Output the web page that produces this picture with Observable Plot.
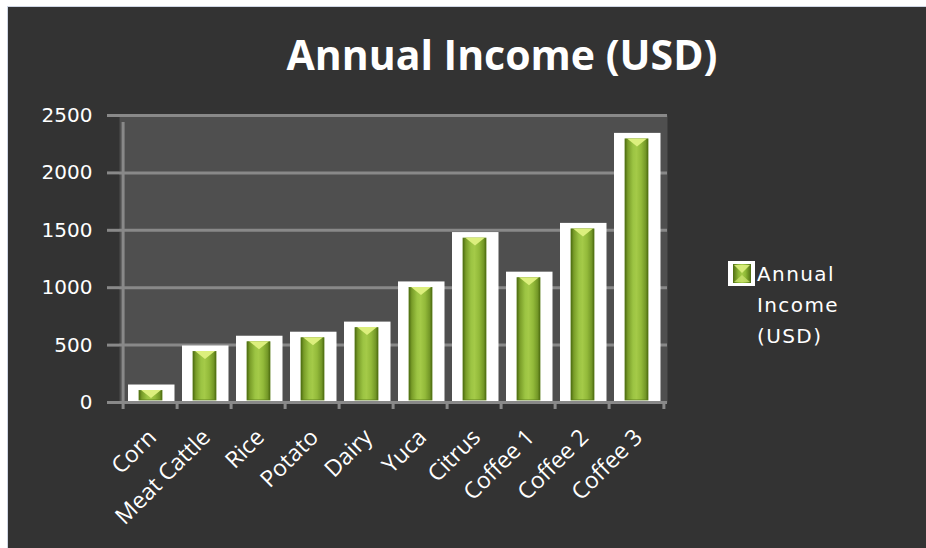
<!DOCTYPE html>
<html>
<head>
<meta charset="utf-8">
<script src="https://cdn.jsdelivr.net/npm/d3@7"></script>
<script src="https://cdn.jsdelivr.net/npm/@observablehq/plot@0.6"></script>
<style>
  html, body { margin: 0; padding: 0; background: #ffffff; }
  #wrap { position: relative; width: 926px; height: 548px; overflow: hidden; background: #ffffff; }
  #panel { position: absolute; left: 7px; top: 6px; right: 0; bottom: 0; background: #333333;
           border-left: 1px solid #cfd6e4; border-top: 1px solid #cfd6e4; }
  #title { position: absolute; left: 0; width: 1004px; top: 27px; text-align: center; color: #ffffff;
           font: 700 41px "Open Sans", sans-serif; line-height: 54px; }
  #chart { position: absolute; left: 0; top: 0; }
  #legend { position: absolute; left: 728px; top: 258px; color: #ffffff; }
  #legend .txt { position: absolute; left: 29px; top: 1px; font: 20px "DejaVu Sans", sans-serif;
                 letter-spacing: 1.4px; line-height: 31px; white-space: nowrap; }
  #legend svg { position: absolute; left: 0; top: 3px; }
</style>
</head>
<body>
<div id="wrap">
  <div id="panel"></div>
  <div id="title">Annual Income (USD)</div>
  <div id="chart"></div>
  <div id="legend">
    <svg width="27" height="25">
      <rect x="0" y="0" width="27" height="25" fill="#ffffff"/>
      <rect x="5" y="3" width="18" height="19" fill="url(#legGrad)"/>
      <path d="M6,4 L22,4 L14,12 Z" fill="#dcef7d" opacity="0.9"/>
      <path d="M6,21 L22,21 L14,14 Z" fill="#cfe672" opacity="0.7"/>
      <defs>
        <linearGradient id="legGrad" x1="0" x2="1" y1="0" y2="0">
          <stop offset="0" stop-color="#4f6e12"/>
          <stop offset="0.3" stop-color="#8db735"/>
          <stop offset="0.5" stop-color="#a6cc48"/>
          <stop offset="0.7" stop-color="#8db735"/>
          <stop offset="1" stop-color="#4f6e12"/>
        </linearGradient>
      </defs>
    </svg>
    <div class="txt">Annual<br>Income<br>(USD)</div>
  </div>
</div>
<script>
// ---- data ----
const crops = ["Corn", "Meat Cattle", "Rice", "Potato", "Dairy", "Yuca", "Citrus", "Coffee 1", "Coffee 2", "Coffee 3"];
const income = [100, 440, 525, 560, 648, 998, 1428, 1083, 1508, 2292];
const yTicks = [0, 500, 1000, 1500, 2000, 2500];

const data = crops.map((c, i) => ({crop: c, value: income[i]}));

// layout
const W = 926, H = 548, ML = 119, MR = 259, MT = 115, MB = 146;
const bw = (W - ML - MR) / crops.length;

const gridColor = "#898989";

// flat downward chevron at bar top
const chevron = {
  draw(ctx) {
    ctx.moveTo(-10, -1);
    ctx.lineTo(10, -1);
    ctx.lineTo(0, 7);
    ctx.closePath();
  }
};

const chart = Plot.plot({
  width: W, height: H,
  marginLeft: ML, marginRight: MR, marginTop: MT, marginBottom: MB,
  style: {background: "transparent", color: "#ffffff", overflow: "visible"},
  x: {domain: crops, padding: 0, label: null},
  y: {domain: [0, 2500], label: null},
  marks: [
    Plot.frame({fill: "#4f4f4f", stroke: null}),
    Plot.ruleY(yTicks, {stroke: gridColor, strokeWidth: 3}),
    Plot.axisY(yTicks, {tickSize: 12, tickPadding: 15, tickFormat: "d", stroke: gridColor, strokeWidth: 3,
      fill: "#ffffff", fontSize: 20, fontFamily: "DejaVu Sans", label: null,
      style: {letterSpacing: "1.4px"}}),
    // left axis line
    Plot.ruleX(crops.slice(0, 1), {x: d => d, y1: 0, y2: 2500, dx: -bw / 2, insetBottom: -7,
      stroke: gridColor, strokeWidth: 3}),
    // band-boundary ticks
    Plot.ruleX(crops, {x: d => d, y1: 0, y2: 0, dx: -bw / 2, insetBottom: -7,
      stroke: gridColor, strokeWidth: 3}),
    Plot.ruleX(crops.slice(-1), {x: d => d, y1: 0, y2: 0, dx: bw / 2, insetBottom: -7,
      stroke: gridColor, strokeWidth: 3}),
    // white frames
    Plot.barY(data, {x: "crop", y: "value", fill: "#ffffff", insetTop: -6, insetLeft: 5, insetRight: 2.5, insetBottom: 1}),
    // green bars
    Plot.barY(data, {x: "crop", y: "value", fill: "url(#barGrad)", stroke: "#587a18", strokeWidth: 0.8,
      insetLeft: 16, insetRight: 15, insetBottom: 2}),
    Plot.dot(data, {x: "crop", y: "value", symbol: chevron, fill: "#dcef7d", stroke: null, dx: 0.5, r: 5}),
    Plot.axisX({tickSize: 0, tickPadding: 31, dx: 2, tickRotate: -45, fill: "#ffffff", fontSize: 23,
      fontFamily: "Open Sans", label: null, style: {letterSpacing: "0.9px"}})
  ]
});

d3.select("#chart").node().appendChild(chart);
d3.select(chart).insert("defs", ":first-child").html(`
  <linearGradient id="barGrad" x1="0" x2="1" y1="0" y2="0">
    <stop offset="0" stop-color="#4c6a10"/>
    <stop offset="0.12" stop-color="#789c28"/>
    <stop offset="0.35" stop-color="#9cc443"/>
    <stop offset="0.5" stop-color="#a4ca48"/>
    <stop offset="0.7" stop-color="#93ba3a"/>
    <stop offset="0.9" stop-color="#739727"/>
    <stop offset="1" stop-color="#4c6a10"/>
  </linearGradient>`);
</script>
</body>
</html>
